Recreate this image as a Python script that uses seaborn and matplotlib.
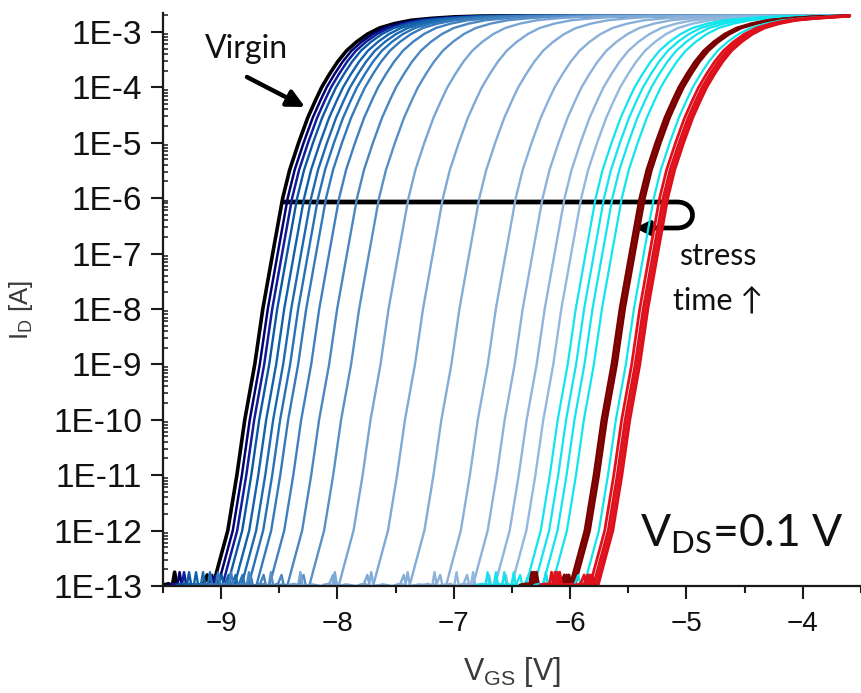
import numpy as np
import pandas as pd
import matplotlib
matplotlib.use("Agg")
import matplotlib.pyplot as plt
from matplotlib.path import Path
from matplotlib.patches import FancyArrowPatch
from matplotlib.ticker import FixedLocator, FixedFormatter, LogLocator, NullFormatter, MultipleLocator
import seaborn as sns

# Virgin transfer curve: gate voltage [V] and log10 of drain current [A]
base_vgs = [-12.5, -9.52, -9.50, -9.45, -9.42, -9.40, -9.38, -9.30, -9.22, -9.15,
            -9.12, -9.10, -9.071, -9.028, -8.943, -8.865, -8.797, -8.711, -8.642, -8.557,
            -8.471, -8.411, -8.334, -8.256, -8.188, -8.136, -8.068, -7.999, -7.922, -7.836,
            -7.742, -7.639, -7.510, -7.365, -7.193, -6.996, -6.781, -6.438]
base_log_id = [-13.5, -13.5, -12.98, -12.96, -13.0, -12.75, -13.0, -12.97, -13.0, -12.96,
               -12.8, -13.0, -13.0, -12.66, -12.0, -11.0, -10.0, -9.0, -8.0, -7.0,
               -6.0, -5.49, -5.0, -4.55, -4.23, -4.0, -3.76, -3.54, -3.34, -3.18,
               -3.04, -2.93, -2.85, -2.79, -2.756, -2.729, -2.715, -2.711]

# End of the gate sweep [V] and compliance level, log10 [A]
sweep_end = -3.6
log_id_sat = -2.711

# Threshold shift of every measured curve relative to the virgin one [V]
vth_shift = [0.000, 0.043, 0.081, 0.124, 0.184, 0.244, 0.304, 0.373, 0.485, 0.639,
             0.828, 1.081, 1.377, 1.690, 2.003, 2.234, 2.423, 2.566, 2.690, 2.762,
             2.834, 2.915, 3.070, 3.090, 3.110, 3.190, 3.240, 3.270, 3.290, 3.310]

curve_colors = ["#000000", "#00006e", "#101e98", "#0b58a6", "#1261ac", "#1b69b1", "#2771b6",
                "#3479ba", "#3f80be", "#4a86c1", "#5890c6", "#78a5d4", "#7ea9d6", "#83acd7",
                "#88b0d9", "#8cb2da", "#8fb5db", "#93b8dd", "#10e4ee", "#10e4ee", "#10e4ee",
                "#10e4ee", "#7a0000", "#820404", "#7a0000", "#10e4ee", "#e2101c", "#d8121e",
                "#e4141e", "#dc0f1a"]
curve_widths = [2.6, 1.8, 1.8] + [1.7] * 15 + [1.6] * 4 + [2.0] * 3 + [1.6] + [2.0] * 4

ytick_values = [1e-13, 1e-12, 1e-11, 1e-10, 1e-9, 1e-8, 1e-7, 1e-6, 1e-5, 1e-4, 1e-3]
ytick_labels = ["1E-13", "1E-12", "1E-11", "1E-10", "1E-9", "1E-8", "1E-7", "1E-6",
                "1E-5", "1E-4", "1E-3"]
xtick_values = [-9, -8, -7, -6, -5, -4]

sns.set_theme(style="ticks")
plt.rcParams["font.family"] = ["Liberation Sans", "DejaVu Sans"]
plt.rcParams["mathtext.fontset"] = "custom"
plt.rcParams["mathtext.rm"] = "Liberation Sans"
plt.rcParams["mathtext.sf"] = "Lato"

fig = plt.figure(figsize=(8.61, 6.93), dpi=100)
ax = fig.add_axes([0.1893, 0.1544, 0.8107, 0.8268])

frames = []
for i, shift in enumerate(vth_shift):
    v = np.asarray(base_vgs) + shift
    logi = np.asarray(base_log_id)
    keep = v < sweep_end
    v = np.append(v[keep], sweep_end)
    logi = np.append(logi[keep], log_id_sat)
    frames.append(pd.DataFrame({"VGS": v, "ID": 10.0 ** logi, "curve": i}))
data = pd.concat(frames, ignore_index=True)

for i, grp in data.groupby("curve"):
    sns.lineplot(data=grp, x="VGS", y="ID", color=curve_colors[i], lw=curve_widths[i],
                 sort=False, estimator=None, ax=ax, legend=False)

ax.set_yscale("log")
ax.set_xlim(-9.5, -3.5)
ax.set_ylim(1e-13, 10 ** -2.66)

ax.yaxis.set_major_locator(FixedLocator(ytick_values))
ax.yaxis.set_major_formatter(FixedFormatter(ytick_labels))
ax.yaxis.set_minor_locator(LogLocator(base=10, subs=np.arange(2, 10), numticks=30))
ax.yaxis.set_minor_formatter(NullFormatter())
ax.xaxis.set_major_locator(FixedLocator(xtick_values))
ax.xaxis.set_minor_locator(MultipleLocator(0.5))

for side in ["top", "right"]:
    ax.spines[side].set_visible(False)
for side in ["left", "bottom"]:
    ax.spines[side].set_linewidth(1.6)
    ax.spines[side].set_color("#1a1a1a")

ax.tick_params(axis="y", which="major", direction="out", length=9, width=1.5,
               labelsize=24, pad=6, color="#1a1a1a", labelcolor="#111111")
ax.tick_params(axis="y", which="minor", direction="in", length=3.5, width=1.1, color="#1a1a1a")
ax.tick_params(axis="x", which="major", direction="out", length=9, width=1.5,
               labelsize=20, pad=9, color="#1a1a1a", labelcolor="#111111")
ax.tick_params(axis="x", which="minor", direction="out", length=5, width=1.5, color="#1a1a1a")

ax.set_xlabel(r"V$_{\mathrm{GS}}$ [V]", fontsize=22, color="#3a3a3a")
ax.set_ylabel(r"I$_{\mathrm{D}}$ [A]", fontsize=18.5, color="#3a3a3a")
ax.xaxis.set_label_coords(0.5, -0.121)
ax.yaxis.set_label_coords(-0.183, 0.482)

# Annotations
label_font = ["Lato", "DejaVu Sans"]
ax.text(0.119, 0.9215, "Virgin", transform=ax.transAxes, ha="center", va="baseline",
        fontsize=23, family=label_font, color="#111111")
ax.annotate("", xy=(0.2034, 0.836), xytext=(0.1203, 0.8883),
            xycoords="axes fraction", textcoords="axes fraction",
            arrowprops=dict(arrowstyle="-|>", lw=3.2, color="black", mutation_scale=26,
                            shrinkA=0, shrinkB=0))
ax.text(0.795, 0.560, "stress", transform=ax.transAxes, ha="center", va="baseline",
        fontsize=22, family=label_font, color="#111111")
ax.text(0.795, 0.4817, "time \u2191", transform=ax.transAxes, ha="center", va="baseline",
        fontsize=22, family=label_font, color="#111111")
ax.text(0.683, 0.068, r"V$_{\mathsf{DS}}$=0.1 V", transform=ax.transAxes, ha="left",
        va="baseline", fontsize=32, family=label_font, color="#111111")

loop = Path([(0.1719, 0.6702), (0.7364, 0.6702), (0.7660, 0.6702), (0.7660, 0.6248),
             (0.7364, 0.6248), (0.6762, 0.6248)],
            [Path.MOVETO, Path.LINETO, Path.CURVE4, Path.CURVE4, Path.CURVE4, Path.LINETO])
ax.add_patch(FancyArrowPatch(path=loop, arrowstyle="-|>", lw=3.4, color="black",
                             mutation_scale=20, transform=ax.transAxes, clip_on=False))

fig.savefig("out.png", dpi=100)
